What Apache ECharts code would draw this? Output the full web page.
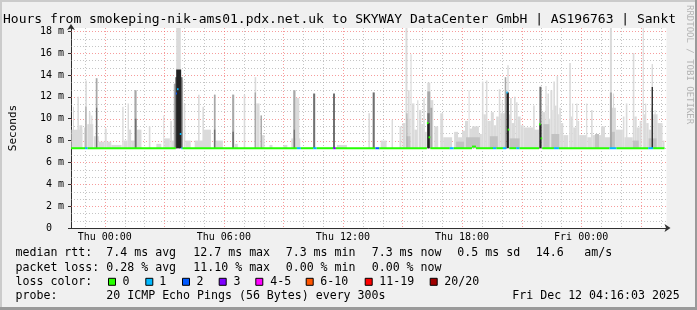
<!DOCTYPE html>
<html><head><meta charset="utf-8">
<script src="https://cdn.jsdelivr.net/npm/echarts@6/dist/echarts.min.js"></script>
<style>html,body{margin:0;padding:0;background:#f0f0f0}#c{width:697px;height:310px}</style>
</head><body><div id="c"></div>
<script>
// ---------------- data ----------------
const titleText = "Hours from smokeping-nik-ams01.pdx.net.uk to SKYWAY DataCenter GmbH | AS196763 | Sankt";
const watermarkText = "RRDTOOL / TOBI OETIKER";
const yTickValues = [0, 2, 4, 6, 8, 10, 12, 14, 16, 18];
const yTickLabels = ["0  ", "2 m", "4 m", "6 m", "8 m", "10 m", "12 m", "14 m", "16 m", "18 m"];
const yMinorGrid = [0.67, 1.33, 2.67, 3.33, 4.67, 5.33, 6.67, 7.33, 8.67, 9.33, 10.67, 11.33, 12.67, 13.33, 14.67, 15.33, 16.67, 17.33];
const xTickHours = [0, 6, 12, 18, 24];
const xTickLabels = ["Thu 00:00", "Thu 06:00", "Thu 12:00", "Thu 18:00", "Fri 00:00"];
const xMajorGrid = [0, 3, 6, 9, 12, 15, 18, 21, 24, 27];
const xMinorGrid = [-1, 1, 2, 4, 5, 7, 8, 10, 11, 13, 14, 16, 17, 19, 20, 22, 23, 25, 26, 28];
const xRange = [-1.7, 28.3];
const yRange = [0, 18.3];
const smokeFloor = 7.3;

// smoke bands: [start hour, end hour, top (ms)]
const lightSmoke = [
  [-1.68,-1.13,9.0],[-1.6,-1.55,11.1],[-1.38,-1.3,12.0],[-1.28,-1.13,9.4],[-1.05,-0.9,9.2],[-0.98,-0.9,13.5],
  [-0.88,-0.58,9.5],[-0.8,-0.72,10.6],[-0.68,-0.62,10.3],[-0.55,-0.3,8.4],[-0.45,-0.37,13.7],
  [-0.3,0.0,7.9],[0.0,0.1,9.1],[0.1,0.33,7.9],[0.33,0.85,7.6],[0.88,0.95,11.1],[0.95,1.15,8.0],
  [1.15,1.22,11.4],[1.22,1.33,9.0],[1.33,1.5,8.0],[1.5,1.6,12.6],[1.6,1.85,9.0],[2.22,2.3,9.3],
  [2.6,2.85,7.7],[2.95,3.0,10.3],[3.0,3.28,8.2],[3.3,3.38,9.8],[3.38,3.5,8.0],[3.48,3.58,13.2],
  [3.6,3.83,18.4],[3.83,3.95,13.5],[3.98,4.06,11.4],[4.06,4.33,8.0],[4.53,4.98,8.0],[4.7,4.78,12.2],
  [4.92,5.0,11.1],[5.0,5.35,9.0],[5.5,5.58,12.2],[5.6,5.95,8.0],[6.42,6.52,12.2],[6.55,6.7,7.7],
  [7.0,7.08,12.2],[7.55,7.63,13.8],[7.63,7.8,11.4],[7.85,7.92,10.3],[7.92,8.05,8.5],[8.3,8.45,7.6],
  [9.0,9.2,7.6],[9.4,9.85,8.2],[9.5,9.62,12.6],[9.62,9.8,11.9],[10.5,10.6,12.3],[11.5,11.6,12.3],
  [11.7,12.2,7.6],[13.28,13.36,10.5],[13.5,13.6,12.4],[13.9,14.2,8.0],[14.45,14.52,9.9],[14.85,14.95,9.3],
  [15.0,15.15,9.6],[15.15,15.25,18.4],[15.25,15.4,10.0],[15.28,15.36,12.6],[15.4,15.46,15.9],
  [15.48,15.6,11.4],[15.6,15.75,9.0],[15.74,15.8,11.7],[15.83,15.95,10.8],[15.95,16.05,9.5],
  [16.05,16.12,11.9],[16.12,16.22,8.8],[16.25,16.4,13.3],[16.4,16.55,11.7],
  [16.6,16.8,9.3],[16.9,17.05,10.5],[17.05,17.5,8.3],[17.6,17.8,8.8],[17.8,18.0,8.3],[18.0,18.15,8.9],
  [18.15,18.3,9.8],[18.33,18.38,12.6],[18.38,18.5,9.1],
  [18.5,18.85,9.3],[18.85,19.0,8.6],[19.0,19.08,13.4],[19.08,19.2,10.4],[19.2,19.28,13.5],
  [19.28,19.45,9.8],[19.45,19.6,10.6],[19.6,19.72,9.4],[19.72,19.85,10.2],
  [19.85,19.93,12.7],[19.93,20.15,10.5],[20.0,20.05,11.6],[20.28,20.35,14.9],[20.35,20.42,10.4],
  [20.42,20.5,11.9],[20.5,20.62,9.6],[20.62,20.7,12.0],[20.72,20.8,11.5],[20.8,20.95,10.2],[20.95,21.1,9.4],
  [21.1,21.6,9.2],[21.58,21.66,11.2],
  [21.6,21.88,9.0],[21.9,22.0,13.0],[22.03,22.2,10.6],[22.2,22.26,13.0],[22.26,22.3,11.2],[22.3,22.38,12.3],
  [22.38,22.45,10.0],[22.45,22.55,12.6],[22.55,22.6,10.8],[22.6,22.68,13.4],[22.68,22.76,11.2],
  [22.76,22.84,13.9],[22.84,22.9,10.4],[22.9,22.98,11.0],[22.98,23.1,9.6],[23.1,23.35,8.5],
  [23.4,23.48,15.1],[23.48,23.55,10.2],[23.55,23.6,11.4],[23.6,23.75,9.2],[23.75,23.82,11.4],[23.82,23.9,9.8],
  [23.9,24.25,8.5],
  [24.25,24.31,11.4],[24.31,24.5,8.3],[24.5,24.58,10.8],[24.58,25.0,8.5],[25.0,25.2,9.3],[25.2,25.45,8.3],
  [25.45,25.55,18.4],[25.55,25.75,11.0],[25.6,25.66,12.3],[25.75,26.1,9.0],[26.1,26.18,10.2],
  [26.18,26.6,8.3],[26.25,26.33,11.4],[26.6,26.68,16.0],[26.68,26.8,10.2],[26.8,26.95,9.2],[26.95,27.05,9.8],
  [27.1,27.16,18.4],[27.16,27.22,10.4],[27.22,27.28,11.4],[27.28,27.4,9.6],[27.4,27.55,9.0],[27.55,27.62,15.0],
  [27.63,27.85,10.4],[27.7,27.75,10.8],[27.85,28.1,9.6],[28.1,28.2,8.0]
];
const lowSmoke = [
  [15.2,15.4,8.4],[17.7,18.1,7.9],[18.2,18.9,8.3],[19.4,19.8,8.4],[20.4,20.9,8.2],[22.1,22.4,9.5],
  [22.5,22.9,8.6],[24.7,24.9,8.6],[25.5,25.7,8.8],[26.6,26.9,8.0],[27.4,27.8,8.2]
];
const midSmoke = [
  [-0.98,-0.92,11.1],[-0.45,-0.37,13.7],[1.5,1.6,12.6],[3.48,3.58,13.2],[5.5,5.58,12.2],
  [6.42,6.52,12.2],[7.55,7.62,12.4],[7.85,7.92,10.3],[9.5,9.6,12.6],[16.25,16.4,12.5],
  [16.4,16.5,11.0],[20.15,20.23,13.8],[25.45,25.55,12.4],[15.2,15.25,10.5],[27.55,27.62,11.0]
];
const darkSmoke = [
  [-0.44,-0.38,11.0],[1.52,1.6,10.0],[3.55,3.92,13.8],[5.5,5.57,9.0],[6.43,6.51,8.8],[9.52,9.58,9.0],
  [10.5,10.6,12.3],[11.5,11.6,12.3],[13.5,13.6,12.4],[16.25,16.37,10.5],[21.9,22.0,12.9],
  [27.55,27.62,12.9]
];
const blackSmoke = [
  [3.6,3.85,14.5],[16.25,16.37,9.6],[20.24,20.36,12.4],[21.9,22.0,9.5],[27.56,27.61,12.9]
];

// median: [start hour, end hour, median (ms), loss class]
const medianSegments = [
  [-1.7,-0.99,7.3,0],[-0.99,-0.86,7.3,1],[-0.86,3.58,7.3,0],[3.58,3.64,12.3,2],[3.64,3.72,12.7,1],
  [3.78,3.86,8.6,1],[3.86,3.92,7.3,1],[3.92,9.68,7.3,0],[9.68,9.88,7.3,1],[9.88,10.51,7.3,0],
  [10.51,10.68,7.3,1],[10.68,11.51,7.3,0],[11.51,11.64,7.3,3],[11.64,13.63,7.3,0],[13.63,13.83,7.3,2],
  [13.83,16.23,7.3,0],[16.23,16.31,9.6,0],[16.31,16.4,8.3,0],[16.4,17.38,7.3,0],[17.38,17.58,7.3,1],
  [17.58,18.5,7.3,0],[18.5,18.7,7.45,0],[18.7,19.56,7.3,0],[19.56,19.73,7.3,1],[19.73,20.06,7.3,0],
  [20.06,20.23,7.3,1],[20.23,20.3,12.4,1],[20.3,20.38,9.0,0],[20.38,20.73,7.3,0],[20.73,20.89,7.3,1],
  [20.89,21.88,7.3,0],[21.88,21.96,9.5,0],[21.96,22.04,8.2,0],[22.04,22.63,7.3,0],[22.63,22.88,7.3,1],
  [22.88,25.43,7.3,0],[25.43,25.78,7.3,1],[25.78,27.38,7.3,0],[27.38,27.63,7.3,1],[27.63,28.2,7.3,0]
];

const lossLabels = ["0", "1", "2", "3", "4-5", "6-10", "11-19", "20/20"];
const lossColors = ["#26ff00", "#00b8ff", "#0059ff", "#7e00ff", "#ff00ff", "#ff5500", "#ff0000", "#a00000"];

const statsRtt = ["median rtt:", "7.4 ms avg", "12.7 ms max", "7.3 ms min", "7.3 ms now", "0.5 ms sd", "14.6", "am/s"];
const statsLoss = ["packet loss:", "0.28 % avg", "11.10 % max", "0.00 % min", "0.00 % now"];
const lossColorLabel = "loss color:";
const probeLine = ["probe:", "20 ICMP Echo Pings (56 Bytes) every 300s", "Fri Dec 12 04:16:03 2025"];

// ---------------- layout ----------------
const MONO = "'DejaVu Sans Mono', monospace";
const statX = [15.5, 106.3, 193.3, 285.7, 371.7, 457.3, 535.7, 584.3];
const boxX = [108.5, 145.8, 182.5, 219.2, 255.8, 306.2, 365.2, 430.2];
const boxLabelX = [122.5, 159.3, 196.5, 233.5, 270.3, 320.3, 379.3, 444.3];
const rowY = [253.3, 267.6, 281.8, 296];

const chart = echarts.init(document.getElementById('c'), null, {renderer: 'canvas'});

function bandRender(color) {
  return function (params, api) {
    const p0 = api.coord([api.value(0), smokeFloor]);
    const p1 = api.coord([api.value(1), api.value(2)]);
    return {type: 'rect', shape: {x: p0[0], y: p1[1], width: p1[0] - p0[0], height: p0[1] - p1[1]},
      style: {fill: color}};
  };
}
function bandSeries(data, color, z) {
  return {type: 'custom', data: data, renderItem: bandRender(color), clip: true, silent: true, z: z,
    encode: {x: [0, 1], y: 2}};
}
function vGrid(data, color, z) {
  return {type: 'custom', data: data.map(v => [v]), clip: true, silent: true, z: z, encode: {x: 0},
    renderItem: function (params, api) {
      const cs = params.coordSys;
      const x = Math.round(api.coord([api.value(0), 0])[0]) + 0.5;
      return {type: 'line', shape: {x1: x, y1: cs.y, x2: x, y2: cs.y + cs.height},
        style: {stroke: color, lineWidth: 1, lineDash: [1, 2]}};
    }};
}
function hGrid(data, color, z) {
  return {type: 'custom', data: data.map(v => [xRange[0], v]), clip: true, silent: true, z: z, encode: {x: 0, y: 1},
    renderItem: function (params, api) {
      const cs = params.coordSys;
      const y = Math.round(api.coord([xRange[0], api.value(1)])[1]) + 0.5;
      return {type: 'line', shape: {x1: cs.x, y1: y, x2: cs.x + cs.width, y2: y},
        style: {stroke: color, lineWidth: 1, lineDash: [1, 2]}};
    }};
}

const graphics = [
  {type: 'rect', shape: {x: 0, y: 0, width: 697, height: 2}, style: {fill: '#cbcbcb'}, silent: true},
  {type: 'rect', shape: {x: 0, y: 0, width: 2, height: 310}, style: {fill: '#cbcbcb'}, silent: true},
  {type: 'rect', shape: {x: 0, y: 307, width: 697, height: 3}, style: {fill: '#9a9a9a'}, silent: true},
  {type: 'rect', shape: {x: 695, y: 0, width: 2, height: 310}, style: {fill: '#9a9a9a'}, silent: true},
  {type: 'text', x: 3, y: 19.5, silent: true, z: 10,
    style: {text: titleText, font: '13px ' + MONO, fill: '#000', verticalAlign: 'middle', align: 'left'}},
  {type: 'text', x: 689, y: 5, rotation: -Math.PI / 2, silent: true, z: 11,
    style: {text: watermarkText, font: '9px ' + MONO, fill: '#b4b4b4', verticalAlign: 'middle', align: 'left'}}
];
statsRtt.forEach((t, i) => graphics.push({type: 'text', x: statX[i], y: rowY[0], silent: true,
  style: {text: t, font: '11.6px ' + MONO, fill: '#000', verticalAlign: 'middle'}}));
statsLoss.forEach((t, i) => graphics.push({type: 'text', x: statX[i], y: rowY[1], silent: true,
  style: {text: t, font: '11.6px ' + MONO, fill: '#000', verticalAlign: 'middle'}}));
graphics.push({type: 'text', x: statX[0], y: rowY[2], silent: true,
  style: {text: lossColorLabel, font: '11.6px ' + MONO, fill: '#000', verticalAlign: 'middle'}});
lossLabels.forEach((t, i) => {
  graphics.push({type: 'rect', shape: {x: boxX[i], y: rowY[2] - 3.5, width: 7, height: 7}, silent: true,
    style: {fill: lossColors[i], stroke: '#000', lineWidth: 1}});
  graphics.push({type: 'text', x: boxLabelX[i], y: rowY[2], silent: true,
    style: {text: t, font: '11.6px ' + MONO, fill: '#000', verticalAlign: 'middle'}});
});
graphics.push({type: 'text', x: statX[0], y: rowY[3], silent: true,
  style: {text: probeLine[0], font: '11.6px ' + MONO, fill: '#000', verticalAlign: 'middle'}});
graphics.push({type: 'text', x: statX[1], y: rowY[3], silent: true,
  style: {text: probeLine[1], font: '11.6px ' + MONO, fill: '#000', verticalAlign: 'middle'}});
graphics.push({type: 'text', x: 512.3, y: rowY[3], silent: true,
  style: {text: probeLine[2], font: '11.6px ' + MONO, fill: '#000', verticalAlign: 'middle'}});

const option = {
  animation: false,
  backgroundColor: '#f0f0f0',
  grid: {left: 66.5, top: 28, width: 600, height: 200, show: true, backgroundColor: '#ffffff', borderWidth: 0, containLabel: false},
  xAxis: {
    type: 'value', min: xRange[0], max: xRange[1],
    splitLine: {show: false},
    axisLine: {show: true, onZero: false, lineStyle: {color: '#303030', width: 1},
      symbol: ['none', 'arrow'], symbolSize: [6, 6], symbolOffset: [0, 4]},
    axisTick: {show: false},
    axisLabel: {customValues: xTickHours, margin: 4, fontFamily: MONO, fontSize: 10, color: '#000',
      formatter: v => xTickLabels[xTickHours.indexOf(v)] || ''}
  },
  yAxis: {
    type: 'value', min: yRange[0], max: yRange[1],
    name: 'Seconds', nameLocation: 'middle', nameGap: 52, nameRotate: 90,
    nameTextStyle: {fontFamily: MONO, fontSize: 11, color: '#000'},
    splitLine: {show: false},
    axisLine: {show: true, onZero: false, lineStyle: {color: '#303030', width: 1},
      symbol: ['none', 'arrow'], symbolSize: [6, 6], symbolOffset: [0, 4]},
    axisTick: {show: true, customValues: yTickValues, length: 3, lineStyle: {color: '#303030'}},
    axisLabel: {customValues: yTickValues, margin: 7, fontFamily: MONO, fontSize: 10, color: '#000',
      formatter: v => yTickLabels[yTickValues.indexOf(v)] || ''}
  },
  graphic: graphics,
  series: [
    vGrid(xMinorGrid, 'rgba(150,150,150,0.55)', 1),
    hGrid(yMinorGrid, 'rgba(150,150,150,0.55)', 1),
    vGrid(xMajorGrid, 'rgba(240,90,90,0.6)', 1),
    hGrid(yTickValues.slice(1), 'rgba(240,90,90,0.6)', 1),
    bandSeries(lightSmoke, '#dadada', 2),
    bandSeries(lowSmoke, '#c2c2c2', 3),
    bandSeries(midSmoke, '#a8a8a8', 3),
    bandSeries(darkSmoke, '#707070', 4),
    bandSeries(blackSmoke, '#222222', 5),
    {type: 'custom', data: medianSegments, clip: true, silent: true, z: 6, encode: {x: [0, 1], y: 2},
      renderItem: function (params, api) {
        const p0 = api.coord([api.value(0), api.value(2)]);
        const p1 = api.coord([api.value(1), api.value(2)]);
        return {type: 'rect', shape: {x: p0[0], y: p0[1] - 1, width: p1[0] - p0[0], height: 2},
          style: {fill: lossColors[api.value(3)]}};
      }}
  ]
};
chart.setOption(option);
</script></body></html>
